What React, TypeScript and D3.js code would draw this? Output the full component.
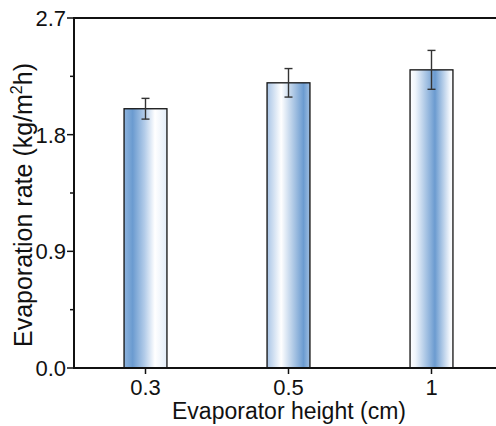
import React from "react";
import * as d3 from "d3";

const categories = ["0.3", "0.5", "1"];
const values = [2.0, 2.2, 2.3];
const errors = [0.08, 0.11, 0.15];
const yMajorTicks = [0, 0.9, 1.8, 2.7];
const yMinorTicks = [0.45, 1.35, 2.25];

const gradients = [
  [
    [0, "#8db3dd"],
    [0.2, "#6b9bd0"],
    [0.48, "#b3cce9"],
    [0.72, "#ffffff"],
    [1, "#e3edf8"],
  ],
  [
    [0, "#a9c5e6"],
    [0.33, "#ffffff"],
    [0.85, "#6b9bd0"],
    [1, "#a0bfe2"],
  ],
  [
    [0, "#ffffff"],
    [0.12, "#f1f6fc"],
    [0.58, "#6b9bd0"],
    [0.93, "#f3f7fc"],
    [1, "#ffffff"],
  ],
];

export default function App() {
  const W = 496;
  const H = 426;
  const left = 74;
  const top = 18;
  const bottom = 368;
  const step = 143;
  const x = d3
    .scaleBand()
    .domain(categories)
    .range([left, left + step * categories.length])
    .paddingInner(0.7)
    .paddingOuter(0.35);
  const y = d3.scaleLinear().domain([0, 2.7]).range([bottom, top]);
  const font = "'Liberation Sans', Arial, sans-serif";
  const bw = x.bandwidth();

  return (
    <svg
      width={W}
      height={H}
      style={{ position: "absolute", left: 0, top: 0 }}
      fontFamily={font}
    >
      <defs>
        {gradients.map((g, i) => (
          <linearGradient key={i} id={`g${i}`} x1="0" x2="1" y1="0" y2="0">
            {g.map(([o, c], j) => (
              <stop key={j} offset={o as number} stopColor={c as string} />
            ))}
          </linearGradient>
        ))}
      </defs>
      <rect x={0} y={0} width={W} height={H} fill="#fff" />
      {categories.map((c, i) => {
        const bx = x(c)!;
        const cx = bx + bw / 2;
        return (
          <g key={c}>
            <rect
              x={bx}
              y={y(values[i])}
              width={bw}
              height={y(0) - y(values[i])}
              fill={`url(#g${i})`}
              stroke="#111"
              strokeWidth={1.3}
            />
            <line
              x1={cx}
              x2={cx}
              y1={y(values[i] + errors[i])}
              y2={y(values[i] - errors[i])}
              stroke="#333"
              strokeWidth={1.4}
            />
            <line
              x1={cx - 4}
              x2={cx + 4}
              y1={y(values[i] + errors[i])}
              y2={y(values[i] + errors[i])}
              stroke="#333"
              strokeWidth={1.4}
            />
            <line
              x1={cx - 4}
              x2={cx + 4}
              y1={y(values[i] - errors[i])}
              y2={y(values[i] - errors[i])}
              stroke="#333"
              strokeWidth={1.4}
            />
            <line
              x1={cx}
              x2={cx}
              y1={bottom}
              y2={bottom + 6}
              stroke="#111"
              strokeWidth={1.5}
            />
            <text
              x={cx}
              y={bottom + 27}
              textAnchor="middle"
              fontSize={22}
              fill="#111"
            >
              {c}
            </text>
          </g>
        );
      })}
      {/* axes */}
      <line x1={left} x2={W} y1={top} y2={top} stroke="#111" strokeWidth={2} />
      <line x1={left} x2={W} y1={bottom} y2={bottom} stroke="#111" strokeWidth={2} />
      <line x1={left} x2={left} y1={top - 1} y2={bottom + 1} stroke="#111" strokeWidth={2} />
      {yMajorTicks.map((t) => (
        <g key={t}>
          <line x1={left - 7} x2={left} y1={y(t)} y2={y(t)} stroke="#111" strokeWidth={1.5} />
          <text
            x={left - 8}
            y={y(t)}
            dy="0.36em"
            textAnchor="end"
            fontSize={22}
            fill="#111"
          >
            {t.toFixed(1)}
          </text>
        </g>
      ))}
      {yMinorTicks.map((t) => (
        <line key={t} x1={left - 4} x2={left} y1={y(t)} y2={y(t)} stroke="#111" strokeWidth={1.5} />
      ))}
      <text
        x={289}
        y={419}
        textAnchor="middle"
        fontSize={23}
        fill="#111"
      >
        Evaporator height (cm)
      </text>
      <text
        transform={`translate(32,205) rotate(-90)`}
        textAnchor="middle"
        fontSize={25}
        fill="#111"
      >
        Evaporation rate (kg/m
        <tspan fontSize={16} dy={-10}>2</tspan>
        <tspan dy={10}>h)</tspan>
      </text>
    </svg>
  );
}
